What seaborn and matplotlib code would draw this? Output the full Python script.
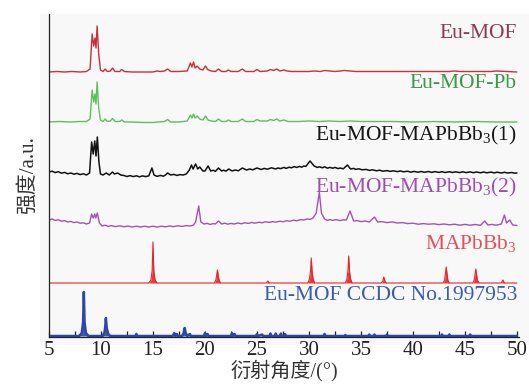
import matplotlib
matplotlib.use("Agg")
import matplotlib.pyplot as plt
import seaborn as sns
import pandas as pd
from matplotlib.ticker import MultipleLocator
from matplotlib.patches import Rectangle

# ---------------- data (x = 2theta, y = relative intensity, a.u.) ----------------
eumof = [(5, 0), (5.8, 0.5), (6.5, 0), (7.2, 0.5), (8.0, 0), (8.6, 0.5), (8.95, 3), (9.15, 38), (9.3, 26),
         (9.42, 34), (9.52, 24), (9.63, 46), (9.78, 18), (9.95, 2), (10.2, 0.5), (10.4, 3), (10.6, 0.5),
         (10.9, 1), (11.1, 4), (11.35, 0.5), (11.8, 0.5), (12.0, 2.5), (12.25, 0.5), (13.0, 0), (14.0, 0),
         (15.0, 0), (15.4, 1), (15.7, 0.5), (16.1, 1), (16.4, 3), (16.7, 0.5), (17.5, 0.5), (18.3, 1),
         (18.6, 9), (18.75, 5), (18.9, 10), (19.05, 4), (19.25, 6), (19.5, 3), (19.8, 2), (20.05, 6),
         (20.25, 2.5), (20.6, 1), (21.0, 0.5), (21.3, 3), (21.6, 0.5), (22.0, 0.5), (22.25, 2), (22.5, 0.5),
         (23.2, 0.5), (23.6, 3), (23.9, 0.5), (24.7, 0.5), (25.0, 2.5), (25.3, 0.5), (26.0, 1), (26.3, 2.5),
         (26.6, 1.5), (26.9, 3), (27.2, 1), (27.6, 2), (27.9, 1), (28.3, 0.5), (29.0, 0.5), (30.0, 0.5),
         (30.5, 1), (31.1, 0.5), (31.5, 1.5), (32.5, 0.5), (33.0, 1), (33.4, 1.5), (34.5, 0.5), (36.0, 0.5),
         (37.5, 0.5), (39.0, 0.5), (40.5, 0.5), (42.0, 0.5), (43.5, 0.5), (44.0, 1), (44.5, 0.5),
         (46.0, 0.5), (47.5, 0.5), (48.0, 1), (49.0, 0.5), (50.0, 0)]

eumof_pb = [(5, 0), (6, 0.5), (7, 0), (8, 0.5), (8.6, 0.5), (8.95, 3), (9.15, 32), (9.3, 20), (9.42, 28),
            (9.52, 18), (9.63, 40), (9.78, 14), (9.95, 2), (10.2, 0.5), (10.4, 3), (10.6, 0.5), (10.9, 1),
            (11.1, 3.5), (11.35, 0.5), (11.8, 0.5), (12.0, 2), (12.25, 0), (13, 0), (14, -0.5), (15, -0.5),
            (15.5, 0), (16.1, 0.5), (16.4, 2.5), (16.7, 0), (17.5, 0), (18.3, 1), (18.6, 7), (18.75, 4),
            (18.9, 8), (19.05, 4), (19.25, 6), (19.5, 3), (19.8, 2), (20.05, 6), (20.3, 2), (20.6, 1),
            (21.0, 0.5), (21.3, 3), (21.6, 0.5), (22.0, 0.5), (22.25, 2), (22.5, 0.5), (23.2, 0.5),
            (23.6, 3), (23.9, 0.5), (24.7, 0.5), (25.0, 2.5), (25.3, 1), (26.0, 1), (26.3, 2.5), (26.6, 1.5),
            (26.9, 3), (27.2, 1), (27.6, 2), (28.0, 0.5), (29, 0.5), (30, 1), (31, 0.5), (32, 1), (33, 0.5),
            (34, 1), (35, 0.5), (36, 0.5), (38, 0.5), (40, 0), (42, 0.5), (44, 0), (46, 0.5), (48, 0),
            (50, 0)]

eumof_mapb1 = [(5, 0), (5.3, 0.8), (5.6, -0.6), (5.9, 0.3), (6.2, -1.2), (6.5, -0.4), (6.8, -1.8), (7.1, -1),
               (7.4, -2.2), (7.7, -1.4), (8.0, -2.6), (8.3, -1.8), (8.6, -3), (8.9, -1), (9.1, 30),
               (9.25, 18), (9.4, 31), (9.52, 16), (9.65, 35), (9.8, 10), (9.95, -2), (10.2, -3), (10.5, -1),
               (10.8, -3), (11.1, 0), (11.3, -2), (11.6, -1), (11.9, -3), (12.2, -3.5), (12.5, -4.5),
               (12.8, -3.6), (13.1, -4.6), (13.4, -3.8), (13.7, -4.8), (14.0, -3.9), (14.3, -4.6),
               (14.6, -3.8), (14.9, 4), (15.1, -3), (15.4, -4.4), (15.7, -3.4), (16.0, -4.2), (16.2, -3),
               (16.4, -1), (16.7, -3), (17.0, -2.4), (17.3, -3.4), (17.6, -2.6), (17.9, -3), (18.2, -2),
               (18.5, 2), (18.7, 7), (18.85, 3), (19.1, 8), (19.3, 3), (19.5, 5), (19.8, 1), (20.0, 1),
               (20.3, 6), (20.55, 1), (20.8, 1.8), (21.0, 0.6), (21.3, 4), (21.6, 1), (21.8, 1.8), (22.0, 0.8),
               (22.3, 3), (22.6, 1), (22.9, 2), (23.2, 1.2), (23.6, 4), (24.0, 2), (24.3, 3), (24.6, 2.2),
               (25.0, 4), (25.4, 2.5), (25.7, 3.6), (26.0, 2.8), (26.4, 4.2), (26.8, 3), (27.0, 4),
               (27.3, 3.4), (27.6, 4.6), (27.8, 3.6), (28.1, 4.8), (28.3, 4.2), (28.6, 5.4), (28.8, 4.6),
               (29.1, 5.6), (29.3, 4.8), (29.5, 6), (29.7, 5.6), (30.1, 11), (30.5, 6), (30.8, 4.6),
               (31.0, 5.2), (31.3, 4.2), (31.5, 5.2), (31.8, 3.8), (32.0, 4.6), (32.3, 3.8), (32.5, 4.6),
               (32.8, 3.4), (33.0, 4), (33.3, 3.2), (33.7, 7), (34.0, 3), (34.3, 3.6), (34.5, 2.6),
               (34.8, 3.2), (35.1, 2.2), (35.5, 2.6), (35.8, 1.6), (36.1, 2.2), (36.5, 1.2), (36.8, 1.8),
               (37.1, 0.8), (37.5, 1.4), (37.8, 0.6), (38.1, 1.2), (38.5, 0.4), (38.8, 1), (39.1, 0.2),
               (39.5, 0.8), (39.8, -0.2), (40.1, 0.6), (40.5, -0.2), (40.8, 0.5), (41.1, -0.3), (41.5, 0.5),
               (41.8, -0.4), (42.1, 0.4), (42.5, -0.4), (42.8, 0.3), (43.1, -0.5), (43.5, 0.3), (43.8, -0.5),
               (44.1, 0.2), (44.5, -0.6), (44.8, 0.2), (45.1, -0.6), (45.5, 0.1), (45.8, -0.7), (46.1, 0),
               (46.5, -0.8), (46.8, 0), (47.1, -0.8), (47.5, -0.1), (47.8, -0.9), (48.1, -0.2), (48.5, -1),
               (48.8, -0.3), (49.1, -1), (49.5, -0.5), (49.8, -1.2), (50, -1)]

eumof_mapb2 = [(5, 5), (5.3, 6), (5.6, 4.6), (5.9, 5.2), (6.2, 3.8), (6.5, 4.4), (6.8, 3), (7.1, 3.6),
               (7.4, 2.4), (7.7, 3), (8.0, 1.8), (8.3, 2.2), (8.6, 1), (8.9, 2), (9.1, 11), (9.25, 7),
               (9.4, 11), (9.5, 7), (9.65, 12), (9.85, 2), (10.1, -1), (10.4, -0.2), (10.7, -1.4), (11, -0.6),
               (11.4, -1.6), (11.8, -0.8), (12.2, -1.8), (12.6, -1), (13.0, -2), (13.4, -1.2), (13.8, -2),
               (14.2, -1.2), (14.6, -2), (15.0, -1.2), (15.4, -2), (15.8, -1.2), (16.2, -1.8), (16.6, -1),
               (17.0, -1.6), (17.4, -0.8), (17.8, -1.4), (18.2, -0.6), (18.6, -1), (18.9, 0), (19.1, 3),
               (19.4, 19), (19.6, 3), (19.9, 1), (20.2, 1.6), (20.5, 0.6), (20.8, 1.4), (21.0, 1), (21.3, 4),
               (21.6, 1), (21.9, 1.8), (22.2, 0.8), (22.5, 1.6), (22.8, 1), (23.2, 2), (23.5, 1.2),
               (23.8, 2.2), (24.2, 1.6), (24.5, 2.6), (24.8, 1.8), (25.2, 2.8), (25.5, 2.2), (25.8, 3.2),
               (26.2, 2.6), (26.5, 3.4), (26.8, 2.8), (27.2, 3.8), (27.5, 3.2), (27.8, 4.2), (28.2, 3.8),
               (28.5, 4.8), (28.8, 4.2), (29.2, 5.4), (29.5, 5), (29.8, 6), (30.1, 5.6), (30.4, 7),
               (30.7, 12), (31.0, 33), (31.2, 12), (31.5, 6), (31.8, 4.6), (32.0, 5.4), (32.3, 4.6),
               (32.6, 5.4), (33.0, 4.4), (33.3, 5.2), (33.6, 5), (33.95, 14), (34.3, 4), (34.6, 4.4),
               (35.0, 3.4), (35.4, 4), (35.8, 3), (36.3, 8), (36.6, 3), (37.0, 3.4), (37.5, 2.4), (38.0, 3),
               (38.5, 2), (39.0, 2.4), (39.5, 1.4), (40.0, 1.8), (40.5, 0.8), (41.0, 1.4), (41.5, 0.8),
               (42.0, 1.2), (42.5, 0.4), (43.0, 1), (43.5, 0.2), (44.0, 0.8), (44.5, -0.2), (45.0, 0.6),
               (45.5, -0.2), (46.0, 0.5), (46.5, -0.3), (46.9, 4), (47.2, 0), (47.6, 0.6), (48.0, -0.2),
               (48.5, 1), (48.8, 10), (49.0, 2), (49.3, 5), (49.6, 0), (50, -0.5)]

mapbbr3 = [(5, 0), (14.6, 0), (14.8, 3), (14.92, 12), (15.0, 41), (15.08, 12), (15.2, 3), (15.4, 0),
           (20.9, 0), (21.05, 3), (21.2, 13), (21.35, 3), (21.5, 0), (25.9, 0), (26.05, 2), (26.2, 0),
           (29.9, 0), (30.05, 4), (30.15, 12), (30.22, 25), (30.3, 12), (30.4, 4), (30.55, 0), (33.5, 0),
           (33.65, 4), (33.75, 12), (33.82, 27), (33.9, 12), (34.0, 4), (34.15, 0), (36.95, 0), (37.1, 2),
           (37.2, 6), (37.3, 2), (37.45, 0), (42.9, 0), (43.05, 3), (43.2, 16), (43.35, 3), (43.5, 0),
           (45.75, 0), (45.9, 3), (46.05, 14), (46.2, 3), (46.35, 0), (48.5, 0), (48.65, 3), (48.8, 0),
           (50, 0)]

ccdc = [(5, 0), (7.9, 0), (8.15, 3), (8.28, 14), (8.35, 44), (8.42, 14), (8.55, 3), (8.8, 0), (10.15, 0),
        (10.32, 3), (10.4, 8), (10.47, 18), (10.55, 8), (10.7, 2), (10.9, 0), (13.3, 0), (13.4, 2),
        (13.5, 0), (16.9, 0), (17.05, 3), (17.15, 0), (17.3, 2), (17.4, 0), (17.8, 0), (17.95, 3),
        (18.05, 8), (18.15, 3), (18.3, 0), (18.55, 2), (18.65, 0), (19.9, 0), (20.0, 3), (20.1, 0),
        (20.25, 2), (20.35, 0), (22.5, 0), (22.6, 3), (22.7, 0), (22.85, 2), (22.95, 0), (24.9, 0),
        (25.0, 2), (25.1, 0), (25.5, 1.5), (25.6, 0), (26.2, 0), (26.3, 2.5), (26.4, 0), (26.7, 0),
        (26.8, 2.5), (26.9, 0), (27.2, 0), (27.3, 2.5), (27.4, 0), (27.6, 0), (27.7, 2), (27.8, 0),
        (31.4, 0), (31.5, 2), (31.6, 0), (33.4, 0), (33.5, 1), (33.6, 0), (35.7, 0), (35.8, 1.5),
        (35.9, 0), (36.2, 0), (36.3, 1.5), (36.4, 0), (37.4, 0), (37.5, 1.5), (37.6, 0), (42.7, 0),
        (42.8, 1.5), (42.9, 0), (43.4, 0), (43.5, 1.5), (43.6, 0), (45.4, 0), (45.5, 1.5), (45.6, 0),
        (50, 0)]

names = ["Eu-MOF", "Eu-MOF-Pb", "Eu-MOF-MAPbBb$_3$(1)", "Eu-MOF-MAPbBb$_3$(2)", "MAPbBb$_3$",
         "Eu-MOF CCDC No.1997953"]
series = [eumof, eumof_pb, eumof_mapb1, eumof_mapb2, mapbbr3, ccdc]
xticks = [5, 10, 15, 20, 25, 30, 35, 40, 45, 50]

# ---------------- styling ----------------
offsets = [265, 215, 165, 112, 54, 1]
line_colors = ["#cc2e3a", "#5cc05c", "#111111", "#a452b4", "#e8242a", "#2a48a8"]
text_colors = ["#8e3a50", "#3a9a48", "#151515", "#a04cb0", "#e4505a", "#3a5cb0"]
line_widths = [1.0, 1.0, 1.1, 1.0, 0.8, 1.8]
label_y = [304, 254, 202, 150, 94, 42]

sns.set_style("white")
plt.rcParams["font.family"] = ["Liberation Serif", "Noto Sans CJK SC", "DejaVu Sans"]
plt.rcParams["mathtext.fontset"] = "custom"
plt.rcParams["mathtext.rm"] = "Liberation Serif"
plt.rcParams["mathtext.it"] = "Liberation Serif"

fig = plt.figure(figsize=(5.29, 3.87), dpi=100)
bg = Rectangle((40 / 529, 1 - 345 / 387), 489 / 529, 331 / 387,
               transform=fig.transFigure, facecolor="#f8f8f8", edgecolor="none", zorder=-10)
fig.add_artist(bg)
ax = fig.add_axes([49 / 529, 1 - 337 / 387, 470 / 529, 323 / 387])
ax.set_zorder(1)
ax.set_facecolor("#f8f8f8")

for pts, off, lc, lw in zip(series, offsets, line_colors, line_widths):
    df = pd.DataFrame(pts, columns=["x", "y"])
    df["y"] = df["y"] + off
    sns.lineplot(data=df, x="x", y="y", ax=ax, color=lc, lw=lw, sort=False, estimator=None)
    if pts is ccdc or pts is mapbbr3:
        ax.fill_between(df["x"], off, df["y"], color=lc, lw=0, alpha=0.9)

for name, ly, tc in zip(names, label_y, text_colors):
    ax.text(50.0, ly, name, ha="right", va="center", color=tc, fontsize=15.5)

ax.set_xlim(5, 50.2)
ax.set_ylim(0, 323)
ax.set_xticks(xticks)
ax.set_xticklabels([str(t) for t in xticks])
ax.xaxis.set_minor_locator(MultipleLocator(2.5))
ax.tick_params(axis="x", which="both", direction="in", length=4, width=0.9, labelsize=15, pad=3,
               colors="#222222", bottom=True)
ax.set_yticks([])
for s in ["top", "right"]:
    ax.spines[s].set_visible(False)
for s in ["left", "bottom"]:
    ax.spines[s].set_color("#222222")
    ax.spines[s].set_linewidth(0.9)

ax.set_xlabel("衍射角度/(°)", fontsize=14.5, color="#333333", labelpad=0)
ax.set_ylabel("强度/a.u.", fontsize=15, color="#333333", labelpad=8)

fig.savefig("out.png", dpi=100)
